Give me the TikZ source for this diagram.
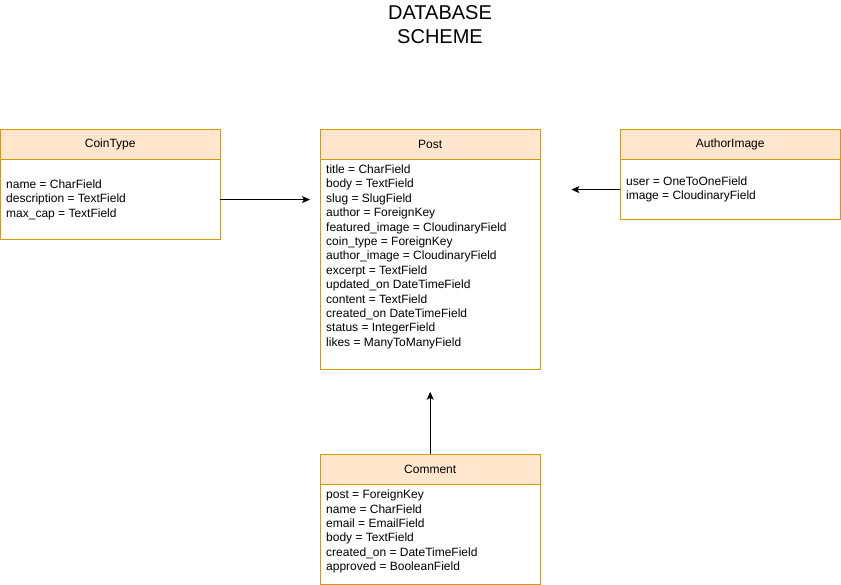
\documentclass[tikz,border=0pt]{standalone}
\usepackage{fontspec}
\setmainfont{Liberation Sans}
\usetikzlibrary{arrows.meta}

\definecolor{hdrfill}{HTML}{FFE6CC}
\definecolor{hdrline}{HTML}{D79B00}
\tikzset{
  hdr/.style={draw=hdrline,fill=hdrfill,anchor=north west,minimum width=220pt,minimum height=30pt,inner sep=0pt,font=\fontsize{12}{14.4}\selectfont},
  fields/.style={draw=hdrline,fill=white,anchor=north west,inner xsep=6pt,inner ysep=0pt,font=\fontsize{12}{14.4}\selectfont},
  link/.style={-{Stealth[length=8pt,width=7pt,inset=2pt]},line width=0.8pt}
}

\begin{document}
\begin{tikzpicture}[x=1pt,y=-1pt]
\useasboundingbox (0,0) rectangle (841,585);

\node[align=center,font=\fontsize{20}{24}\selectfont] (title) at (440,25) {DATABASE\\SCHEME};

\node[hdr] (coinHead) at (0,129) {CoinType};
\node[fields] (coinBody) at (coinHead.south west) {\parbox[c][80pt][c]{208pt}{name = CharField\\description = TextField\\max\_cap = TextField}};

\node[hdr] (postHead) at (320,129) {Post};
\node[fields] (postBody) at (postHead.south west) {\parbox[c][210pt][t]{208pt}{\rule{0pt}{14pt}title = CharField\\body = TextField\\slug = SlugField\\author = ForeignKey\\featured\_image = CloudinaryField\\coin\_type = ForeignKey\\author\_image = CloudinaryField\\excerpt = TextField\\updated\_on DateTimeField\\content = TextField\\created\_on DateTimeField\\status = IntegerField\\likes = ManyToManyField}};

\node[hdr] (authorHead) at (620,129) {AuthorImage};
\node[fields] (authorBody) at (authorHead.south west) {\parbox[c][60pt][c]{208pt}{user = OneToOneField\\image = CloudinaryField}};

\node[hdr] (commentHead) at (320,454) {Comment};
\node[fields] (commentBody) at (commentHead.south west) {\parbox[c][100pt][t]{208pt}{\rule{0pt}{14pt}post = ForeignKey\\name = CharField\\email = EmailField\\body = TextField\\created\_on = DateTimeField\\approved = BooleanField}};

\draw[link,shorten >=10pt] (coinBody.east) -- (coinBody.east -| postBody.west);
\draw[link,shorten >=31pt] (authorBody.west) -- (authorBody.west -| postBody.east);
\draw[link,shorten >=22pt] (commentHead.north) -- (postBody.south);
\end{tikzpicture}
\end{document}
